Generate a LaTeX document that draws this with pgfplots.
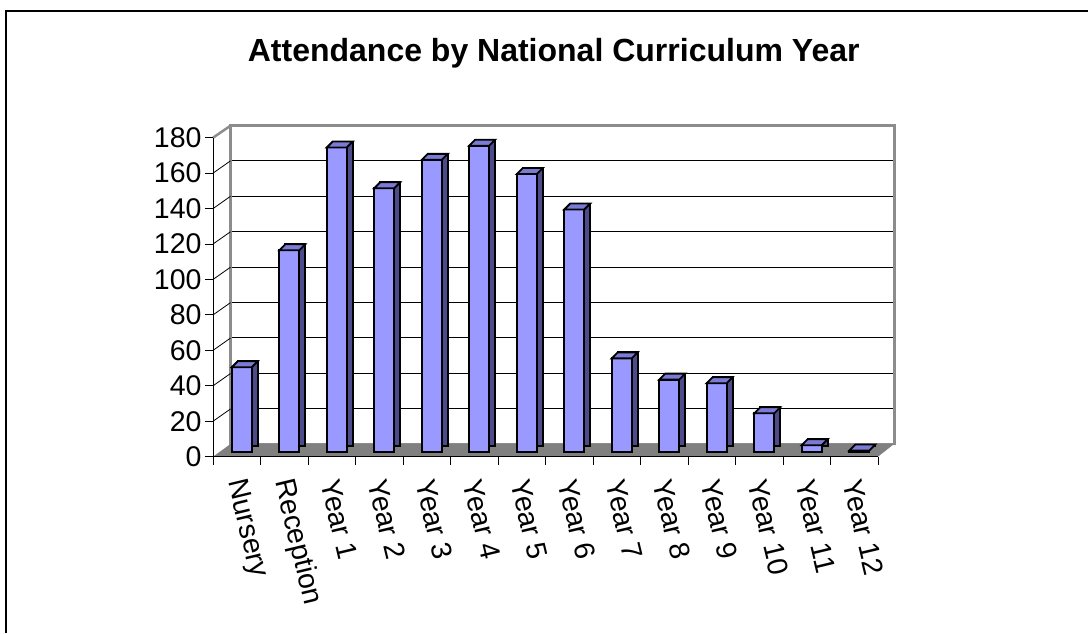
\documentclass[border=0pt]{standalone}
\usepackage{pgfplots}
\usepackage{pgfplotstable}
\pgfplotsset{compat=1.18}
\usepackage{fontspec}
\setmainfont{Liberation Sans}

\definecolor{barfront}{HTML}{9999FF}
\definecolor{barside}{HTML}{4C4C8C}
\definecolor{bartop}{HTML}{7B7BD6}
\definecolor{floorgray}{HTML}{808080}
\definecolor{wallgray}{HTML}{8C8C8C}

% top face of a 3D column, drawn at the data point
\pgfdeclareplotmark{topface}{%
  \pgfpathmoveto{\pgfpoint{-5pt}{0pt}}%
  \pgfpathlineto{\pgfpoint{1pt}{6pt}}%
  \pgfpathlineto{\pgfpoint{21pt}{6pt}}%
  \pgfpathlineto{\pgfpoint{15pt}{0pt}}%
  \pgfpathclose
  \pgfusepathqfillstroke}

\pgfplotstableread{
idx val
0   48
1   114
2   172
3   149
4   165
5   173
6   157
7   137
8   53
9   41
10  39
11  22
12  4
13  1
}\attendance

\begin{document}
\begin{tikzpicture}
\useasboundingbox (0,0) rectangle (1088pt,-633pt);
\draw[line width=1.5pt] (6pt,-633pt) -- (6pt,-11pt) -- (1088pt,-11pt);
\node[font=\bfseries\fontsize{32}{32}\selectfont, anchor=base, inner sep=0pt]
  at (553.7pt,-61pt) {Attendance by National Curriculum Year};

% back wall with gridlines
\begin{axis}[
    at={(230.5pt,-444pt)}, anchor=south west,
    scale only axis, width=664pt, height=318.5pt,
    xmin=0, xmax=1, ymin=0, ymax=180,
    xtick=\empty, ytick={0,20,...,180},
    yticklabel style={opacity=0, font=\tiny},
    ymajorgrids, grid style={black, line width=0.8pt},
    major tick length=0pt,
    axis line style={wallgray, line width=2.5pt},
]
\end{axis}

% front plane: axes, floor, bars
\begin{axis}[
    at={(213pt,-456.7pt)}, anchor=south west,
    scale only axis, width=665pt, height=319pt,
    xmin=-0.5, xmax=13.5, ymin=0, ymax=180,
    axis x line*=bottom, axis y line*=left,
    axis on top, clip=false,
    axis line style={black, line width=1pt},
    tick style={black, line width=1pt},
    tick align=outside, major tick length=8pt, minor tick length=8pt,
    xtick={0,...,13},
    xticklabels={Nursery,Reception,Year 1,Year 2,Year 3,Year 4,Year 5,Year 6,Year 7,Year 8,Year 9,Year 10,Year 11,Year 12},
    major x tick style=transparent,
    minor xtick={-0.5,0.5,...,13.5},
    ytick={0,20,...,180},
    ticklabel style={font=\fontsize{28.5}{28.5}\selectfont},
    /pgf/number format/assume math mode=true,
    xticklabel style={xshift=-2pt, yshift=-15pt, rotate=-76.5, anchor=west, inner sep=0pt},
]
\fill[floorgray] (axis cs:-0.5,0) -- ++(17.5pt,12.7pt)
  -- ([xshift=16pt,yshift=12.7pt]axis cs:13.5,0) -- (axis cs:13.5,0) -- cycle;
\pgfplotsinvokeforeach{20,40,...,160}{
  \draw[black, line width=0.8pt] (axis cs:-0.5,#1) -- ++(17.5pt,12.3pt);
}
\draw[wallgray, line width=2.5pt] (axis cs:-0.5,180) -- ++(17.5pt,12pt);

\addplot[ybar, bar width=20pt, bar shift=11pt, yshift=10.4pt,
  fill=barside, draw=black, line width=1.8pt] table[x=idx,y=val]{\attendance};
\addplot[ybar, bar width=20pt, bar shift=5pt, yshift=4.4pt,
  fill=barfront, draw=black, line width=1.8pt] table[x=idx,y=val]{\attendance};
\addplot[only marks, mark=topface, yshift=4.4pt,
  mark options={fill=bartop, draw=black, line width=1.8pt}] table[x=idx,y=val]{\attendance};
\end{axis}
\end{tikzpicture}
\end{document}
